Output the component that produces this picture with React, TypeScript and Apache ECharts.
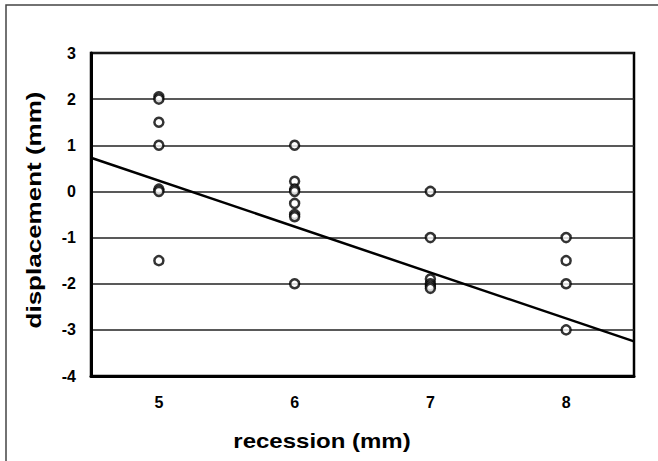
import React, { useEffect, useRef } from "react";
import * as echarts from "echarts";

const xTicks = [5, 6, 7, 8];
const yTicks = [-4, -3, -2, -1, 0, 1, 2, 3];
const pointsX = [5, 5, 5, 5, 5, 5, 5, 6, 6, 6, 6, 6, 6, 6, 6, 7, 7, 7, 7, 7, 7, 8, 8, 8, 8];
const pointsY = [2.05, 2.0, 1.5, 1.0, 0.05, 0.0, -1.5, 1.0, 0.22, 0.05, 0.0, -0.26, -0.5, -0.55, -2.0, 0.0, -1.0, -1.9, -2.0, -2.05, -2.1, -1.0, -1.5, -2.0, -3.0];
const trendX = [4.5, 8.5];
const trendY = [0.73, -3.25];
const xTitle = "recession (mm)";
const yTitle = "displacement (mm)";

export default function App() {
  const ref = useRef<HTMLDivElement>(null);
  useEffect(() => {
    if (!ref.current) return;
    const chart = echarts.init(ref.current, null, { renderer: "svg" });
    const font = "Liberation Sans, Arial, sans-serif";
    chart.setOption({
      animation: false,
      backgroundColor: "#fff",
      grid: {
        left: 91,
        top: 53,
        right: 24,
        bottom: 85,
        show: true,
        borderColor: "#000",
        borderWidth: 2.5,
        backgroundColor: "transparent",
      },
      xAxis: {
        type: "value",
        min: 4.5,
        max: 8.5,
        axisLine: { show: true, onZero: false, lineStyle: { color: "#000", width: 3 } },
        axisTick: { show: false },
        splitLine: { show: false },
        axisLabel: {
          customValues: xTicks,
          color: "#000",
          fontFamily: font,
          fontWeight: "bold",
          fontSize: 16,
          margin: 18,
        },
      },
      yAxis: {
        type: "value",
        min: yTicks[0],
        max: yTicks[yTicks.length - 1],
        interval: 1,
        axisLine: { show: true, onZero: false, lineStyle: { color: "#000", width: 3 } },
        axisTick: { show: false },
        splitLine: { show: true, lineStyle: { color: "#222", width: 1.5 } },
        axisLabel: {
          color: "#000",
          fontFamily: font,
          fontWeight: "bold",
          fontSize: 16,
          margin: 15,
        },
      },
      graphic: [
        {
          type: "rect",
          shape: { x: 6, y: 5, width: 700, height: 500 },
          style: { fill: "none", stroke: "#444", lineWidth: 1.5 },
          z: -1,
        },
        {
          type: "text",
          x: 322,
          y: 441,
          scaleX: 1.2,
          style: {
            text: xTitle,
            font: "bold 20px Liberation Sans, Arial, sans-serif",
            fill: "#000",
            textAlign: "center",
            textVerticalAlign: "middle",
          },
        },
        {
          type: "text",
          x: 34,
          y: 210,
          rotation: Math.PI / 2,
          scaleX: 1.3,
          style: {
            text: yTitle,
            font: "bold 20px Liberation Sans, Arial, sans-serif",
            fill: "#000",
            textAlign: "center",
            textVerticalAlign: "middle",
          },
        },
      ],
      series: [
        {
          type: "line",
          data: trendX.map((x, i) => [x, trendY[i]]),
          showSymbol: false,
          symbol: "none",
          lineStyle: { color: "#000", width: 2.5 },
          z: 2,
        },
        {
          type: "scatter",
          data: pointsX.map((x, i) => [x, pointsY[i]]),
          symbol: "circle",
          symbolSize: 9,
          itemStyle: { color: "#fff", borderColor: "#000", borderWidth: 2.5 },
          z: 3,
        },
      ],
    });
    return () => chart.dispose();
  }, []);
  return <div ref={ref} style={{ position: "fixed", left: 0, top: 0, width: 658, height: 461 }} />;
}
